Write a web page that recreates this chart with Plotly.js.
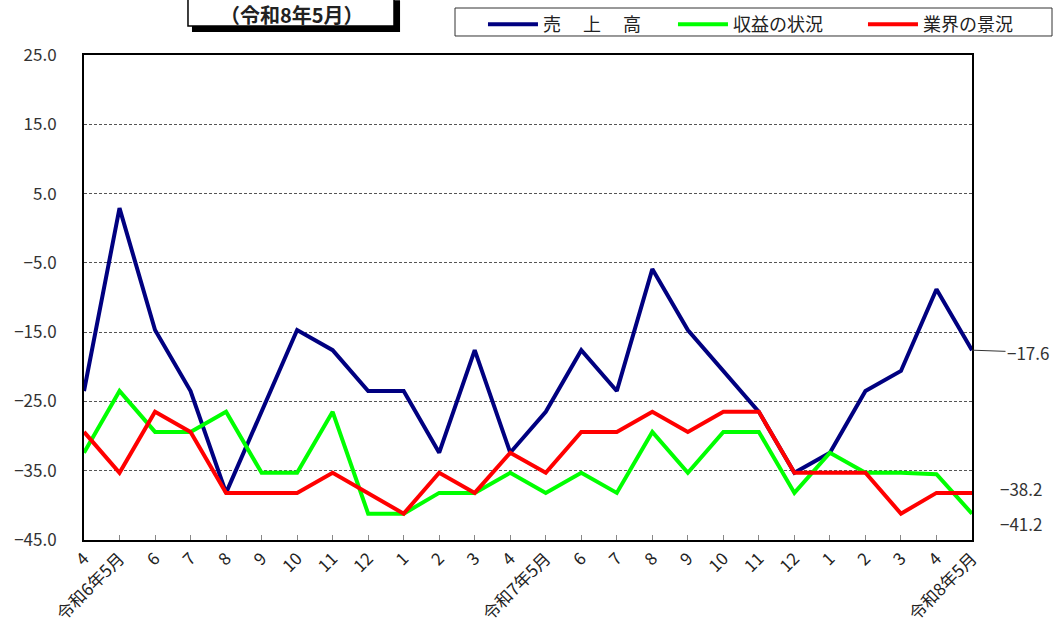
<!DOCTYPE html>
<html>
<head>
<meta charset="utf-8">
<script src="https://cdn.plot.ly/plotly-3.0.1.min.js"></script>
<style>
  html, body { margin: 0; padding: 0; background: #ffffff; }
  #chart { width: 1060px; height: 626px; }
</style>
</head>
<body>
<div id="chart"></div>
<script>
// ---- data ----
const tickLabels = ["4","令和6年5月","6","7","8","9","10","11","12","1","2","3","4","令和7年5月","6","7","8","9","10","11","12","1","2","3","4","令和8年5月"];
const uriage  = [-23.5, 2.9, -14.7, -23.5, -38.2, -26.5, -14.7, -17.6, -23.5, -23.5, -32.4, -17.6, -32.4, -26.5, -17.6, -23.5, -5.9, -14.7, -20.6, -26.5, -35.3, -32.4, -23.5, -20.6, -8.8, -17.6];
const shueki  = [-32.4, -23.5, -29.4, -29.4, -26.5, -35.3, -35.3, -26.5, -41.2, -41.2, -38.2, -38.2, -35.3, -38.2, -35.3, -38.2, -29.4, -35.3, -29.4, -29.4, -38.2, -32.4, -35.3, -35.3, -35.5, -41.2];
const gyokai  = [-29.4, -35.3, -26.5, -29.4, -38.2, -38.2, -38.2, -35.3, -38.2, -41.2, -35.3, -38.2, -32.4, -35.3, -29.4, -29.4, -26.5, -29.4, -26.5, -26.5, -35.3, -35.3, -35.3, -41.2, -38.2, -38.2];
const seriesNames = ["売　 上　 高", "収益の状況", "業界の景況"];
const yTicks = [25, 15, 5, -5, -15, -25, -35, -45];
const periodTitle = "（令和8年5月）";

const xIdx = tickLabels.map((_, i) => i);
const FONT = '"Noto Sans CJK JP", "Noto Sans", sans-serif';
const fmt = v => (v < 0 ? "\u2212" : "") + Math.abs(v).toFixed(1);

const colors = ["#000080", "#00ff00", "#ff0000"];
const allSeries = [uriage, shueki, gyokai];

const traces = allSeries.map((s, k) => ({
  type: "scatter",
  mode: "lines",
  x: xIdx,
  y: s,
  name: seriesNames[k],
  line: { color: colors[k], width: 4 },
  hoverinfo: "x+y"
}));

const last = xIdx.length - 1;
const annotations = [
  {
    text: periodTitle, xref: "paper", yref: "paper", x: 0.2342, y: 1.0835,
    xanchor: "center", yanchor: "middle", showarrow: false, borderpad: 0,
    font: { family: FONT, size: 20, color: "#222", weight: "bold" }
  },
  {
    text: fmt(uriage[last]), xref: "x", yref: "y", x: last, y: uriage[last],
    showarrow: true, arrowhead: 0, arrowwidth: 1, arrowcolor: "#333",
    ax: 56, ay: 2, xanchor: "center",
    font: { family: FONT, size: 17, color: "#333" }
  },
  {
    text: fmt(gyokai[last]), xref: "x", yref: "y", x: last, y: gyokai[last],
    showarrow: false, xanchor: "left", xshift: 26, yshift: 4,
    font: { family: FONT, size: 17, color: "#333" }
  },
  {
    text: fmt(shueki[last]), xref: "x", yref: "y", x: last, y: shueki[last],
    showarrow: false, xanchor: "left", xshift: 26, yshift: -10,
    font: { family: FONT, size: 17, color: "#333" }
  }
];

const shapes = [
  // title box shadow + box
  { type: "rect", xref: "paper", yref: "paper", x0: 0.1216, x1: 0.3559, y0: 1.0474, y1: 1.113,
    fillcolor: "#000", line: { width: 0 }, layer: "above" },
  { type: "rect", xref: "paper", yref: "paper", x0: 0.1171, x1: 0.3491, y0: 1.0598, y1: 1.13,
    fillcolor: "#fff", line: { color: "#000", width: 1.5 }, layer: "above" },
  // legend frame
  { type: "rect", xref: "paper", yref: "paper", x0: 0.4178, x1: 1.0901, y0: 1.0392, y1: 1.0969,
    fillcolor: "rgba(0,0,0,0)", line: { color: "#333", width: 1 }, layer: "below" }
];

const layout = {
  width: 1060, height: 626,
  margin: { l: 84, r: 88, t: 55, b: 86, autoexpand: false },
  paper_bgcolor: "#fff", plot_bgcolor: "#fff",
  font: { family: FONT, color: "#222" },
  showlegend: true,
  legend: {
    orientation: "h", x: 0.4493, y: 1.101, xanchor: "left", yanchor: "top",
    borderwidth: 0, bgcolor: "rgba(0,0,0,0)",
    itemwidth: 50, entrywidth: 125, entrywidthmode: "pixels",
    font: { family: FONT, size: 18, color: "#222" },
    traceorder: "normal"
  },
  xaxis: {
    range: [0, last],
    tickmode: "array", tickvals: xIdx, ticktext: tickLabels,
    tickangle: -45,
    ticks: "inside", ticklen: 5, tickcolor: "#888", tickwidth: 1,
    showline: true, linecolor: "#000", linewidth: 2, mirror: true,
    showgrid: false, zeroline: false,
    tickfont: { family: FONT, size: 17, color: "#222" }
  },
  yaxis: {
    range: [-45, 25],
    tickmode: "array", tickvals: yTicks, ticktext: yTicks.map(fmt),
    ticks: "", ticklabelstandoff: 22,
    showline: true, linecolor: "#000", linewidth: 2, mirror: true,
    showgrid: true, gridcolor: "#555", gridwidth: 1, griddash: "3px,2px",
    zeroline: false,
    tickfont: { family: FONT, size: 17, color: "#333" }
  },
  annotations: annotations,
  shapes: shapes
};

Plotly.newPlot("chart", traces, layout, { displayModeBar: false, staticPlot: true });
</script>
</body>
</html>
